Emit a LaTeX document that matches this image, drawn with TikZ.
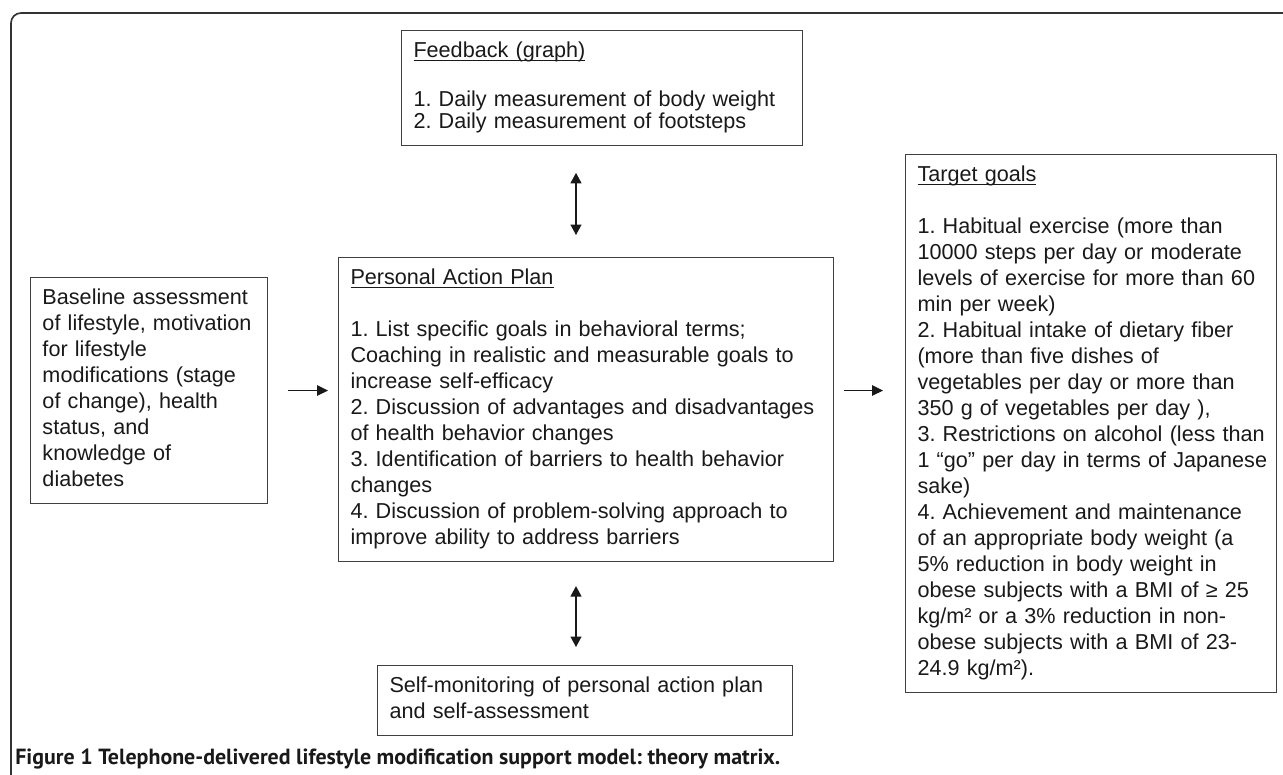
\documentclass[tikz,border=0pt]{standalone}
\usepackage{amsmath}
\usepackage{graphicx}
\usepackage{fontspec}
\setmainfont{Liberation Sans}
\newfontfamily\capfont{PT Sans}
\usepackage{tikz}
\usetikzlibrary{positioning,calc}
\usetikzlibrary{arrows.meta}
\frenchspacing
\newcommand\ul[1]{\underline{\smash[b]{#1}}}
\tikzstyle{box} = [rectangle, anchor=north west, align=left, draw=black!75, line width=0.2mm,
inner xsep=2.4mm, inner ysep=1.8mm, text=black!90, font=\fontsize{12.3}{14.8}\selectfont]
\tikzstyle{arrow} = [line width=0.25mm, black!90, -{Triangle[length=2.2mm,width=2.1mm]}]
\tikzstyle{dblarrow} = [line width=0.25mm, black!90, {Triangle[length=2.1mm,width=2.2mm]}-{Triangle[length=2.1mm,width=2.2mm]}]

\begin{document}
\begin{tikzpicture}[x=0.2mm,y=-0.2mm]
\useasboundingbox (0,0) rectangle (1283,774);
\draw[black!80, line width=0.33mm, rounded corners=2mm] (11,800) -- (11,13) -- (1300,13);
\node (fb) at (401,30) [box, text width=75.4mm] {\begin{tabular}{@{}l@{}}
\ul{Feedback (graph)}\\[13pt]
1. Daily measurement of body weight\\[-2.3pt]
2. Daily measurement of footsteps
\end{tabular}};
\node (plan) at (338,257) [box, text width=94.2mm] {\begin{tabular}{@{}l@{}}
\ul{Personal Action Plan}\\[14.8pt]
1. List specific goals in behavioral terms;\\
Coaching in realistic and measurable goals to\\
increase self-efficacy\\
2. Discussion of advantages and disadvantages\\
of health behavior changes\\
3. Identification of barriers to health behavior\\
changes\\
4. Discussion of problem-solving approach to\\
improve ability to address barriers
\end{tabular}};
\node (base) at (30,277) [box, text width=42.6mm] {\begin{tabular}{@{}l@{}}
Baseline assessment\\
of lifestyle, motivation\\
for lifestyle\\
modifications (stage\\
of change), health\\
status, and\\
knowledge of\\
diabetes
\end{tabular}};
\node (goals) at (905,154) [box, text width=69.4mm] {\begin{tabular}{@{}l@{}}
\ul{Target goals}\\[14.8pt]
1. Habitual exercise (more than\\
10000 steps per day or moderate\\
levels of exercise for more than 60\\
min per week)\\
2. Habitual intake of dietary fiber\\
(more than five dishes of\\
vegetables per day or more than\\
350 g of vegetables per day ),\\
3. Restrictions on alcohol (less than\\
1 “go” per day in terms of Japanese\\
sake)\\
4. Achievement and maintenance\\
of an appropriate body weight (a\\
5\% reduction in body weight in\\
obese subjects with a BMI of ≥ 25\\
kg/m² or a 3\% reduction in non-\\
obese subjects with a BMI of 23-\\
24.9 kg/m²).
\end{tabular}};
\node (selfmon) at (377,665) [box, text width=78.2mm] {\begin{tabular}{@{}l@{}}
Self-monitoring of personal action plan\\
and self-assessment
\end{tabular}};
\node (caption) at (15,759) [anchor=west, inner sep=0pt, text=black!90] {\resizebox{153mm}{!}{\capfont\bfseries Figure 1 Telephone-delivered lifestyle modification support model: theory matrix.}};
\coordinate (axis) at (576,0);
\draw[dblarrow, shorten <=5.4mm, shorten >=4.4mm] (fb.south -| axis) -- (plan.north -| axis);
\draw[dblarrow, shorten <=4.8mm, shorten >=3.6mm] (plan.south -| axis) -- (selfmon.north -| axis);
\draw[arrow, shorten <=4mm, shorten >=2mm] (base.east) -- (base.east -| plan.west);
\draw[arrow, shorten <=2mm, shorten >=4.4mm] (plan.east |- base.east) -- (goals.west |- base.east);
\end{tikzpicture}
\end{document}
